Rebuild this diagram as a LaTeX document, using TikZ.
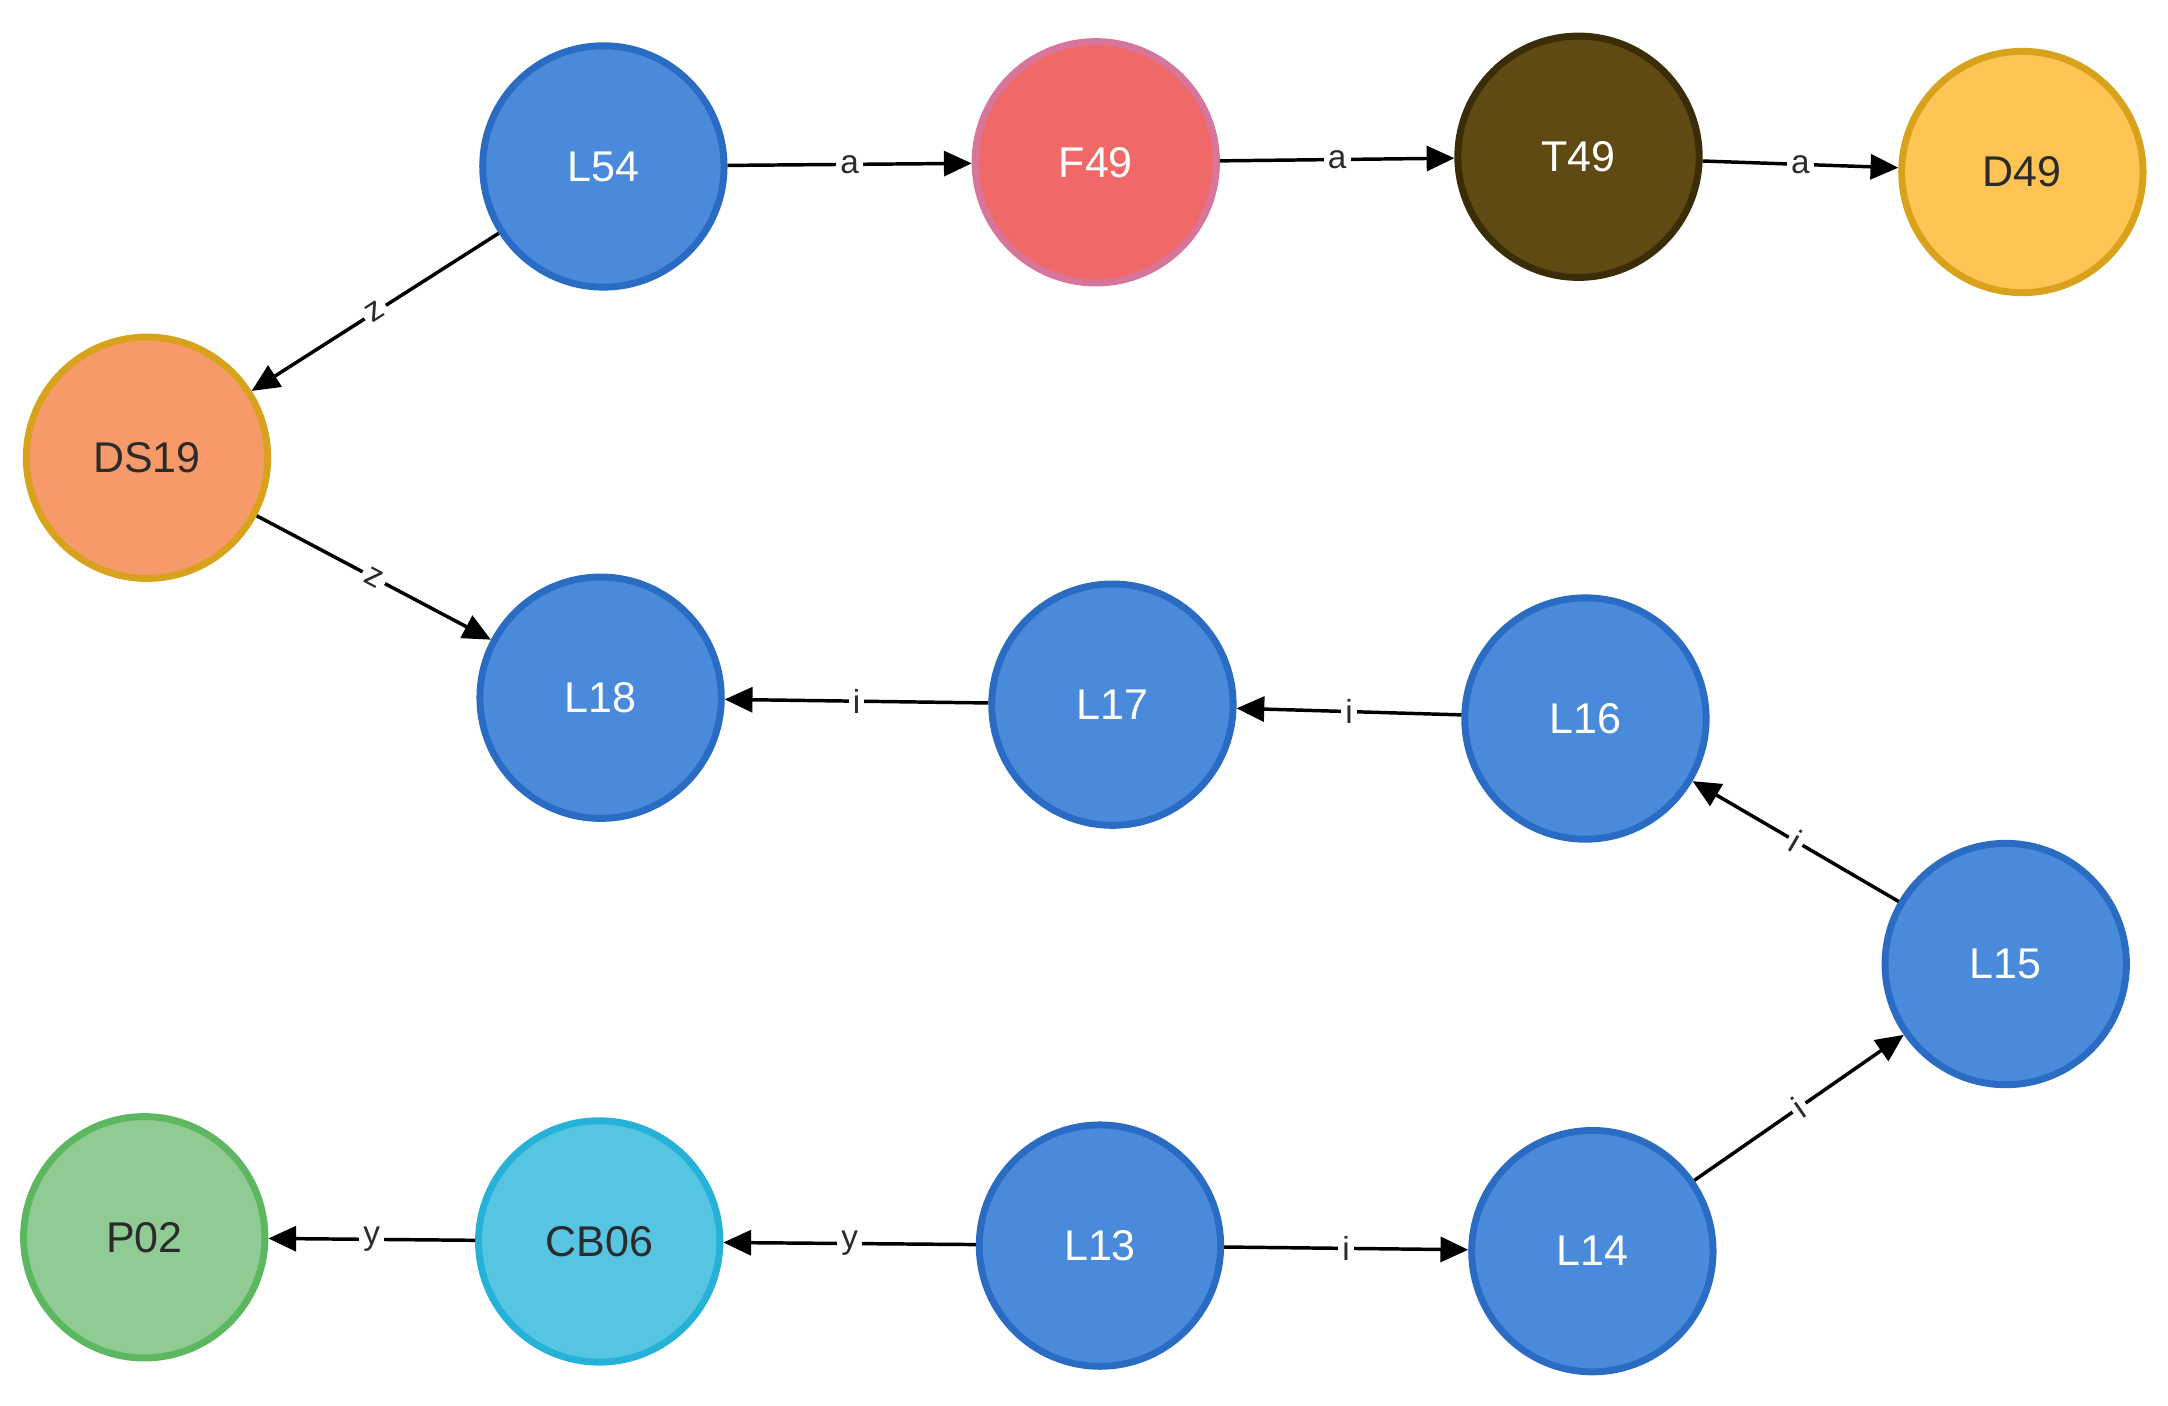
\documentclass[tikz,border=0pt]{standalone}
\usepackage{fontspec}
\setmainfont{Liberation Sans}
\usetikzlibrary{arrows.meta}
\definecolor{bf}{HTML}{4A8ADB}\definecolor{bd}{HTML}{2A6CC4}
\definecolor{rf}{HTML}{F06868}\definecolor{rd}{HTML}{D8759A}
\definecolor{tf}{HTML}{5E4A12}\definecolor{td}{HTML}{3A2D08}
\definecolor{yf}{HTML}{FFC454}\definecolor{yd}{HTML}{D9A21C}
\definecolor{of}{HTML}{F59A68}
\definecolor{gf}{HTML}{8FCB92}\definecolor{gd}{HTML}{5DB761}
\definecolor{cf}{HTML}{56C5E2}\definecolor{cd}{HTML}{25B1D8}
\definecolor{dk}{HTML}{2B2B2B}
\tikzset{
 n/.style={circle,minimum size=174pt,inner sep=0pt,line width=5pt,font=\fontsize{31}{31}\selectfont},
 blue/.style={n,fill=bf,draw=bd,text=white},
 e/.style={line width=2.5pt,draw=black,-{Triangle[length=20pt,width=18pt]}},
 l/.style={fill=white,inner sep=3pt,font=\fontsize{24}{24}\selectfont,text=dk}
}
\begin{document}
\begin{tikzpicture}[x=1pt,y=-1pt]
\useasboundingbox (0,0) rectangle (1563,1013);
\node[blue] (L54) at (435,120) {L54};
\node[n,fill=rf,draw=rd,text=white] (F49) at (790,117) {F49};
\node[n,fill=tf,draw=td,text=white] (T49) at (1138,113) {T49};
\node[n,fill=yf,draw=yd,text=dk] (D49) at (1458,124) {D49};
\node[n,fill=of,draw=yd,text=dk] (DS19) at (106,330) {DS19};
\node[blue] (L18) at (433,503) {L18};
\node[blue] (L17) at (802,508) {L17};
\node[blue] (L16) at (1143,518) {L16};
\node[blue] (L15) at (1446,695) {L15};
\node[n,fill=gf,draw=gd,text=dk] (P02) at (104,892) {P02};
\node[n,fill=cf,draw=cd,text=dk] (CB06) at (432,895) {CB06};
\node[blue] (L13) at (793,898) {L13};
\node[blue] (L14) at (1148,902) {L14};
\draw[e] (L54) -- node[l]{a} (F49);
\draw[e] (F49) -- node[l]{a} (T49);
\draw[e] (T49) -- node[l]{a} (D49);
\draw[e] (L54) -- node[l,sloped]{z} (DS19);
\draw[e] (DS19) -- node[l,sloped]{z} (L18);
\draw[e] (L17) -- node[l]{i} (L18);
\draw[e] (L16) -- node[l]{i} (L17);
\draw[e] (L15) -- node[l,sloped]{i} (L16);
\draw[e] (L14) -- node[l,sloped]{i} (L15);
\draw[e] (L13) -- node[l]{i} (L14);
\draw[e] (L13) -- node[l]{y} (CB06);
\draw[e] (CB06) -- node[l]{y} (P02);
\end{tikzpicture}
\end{document}
